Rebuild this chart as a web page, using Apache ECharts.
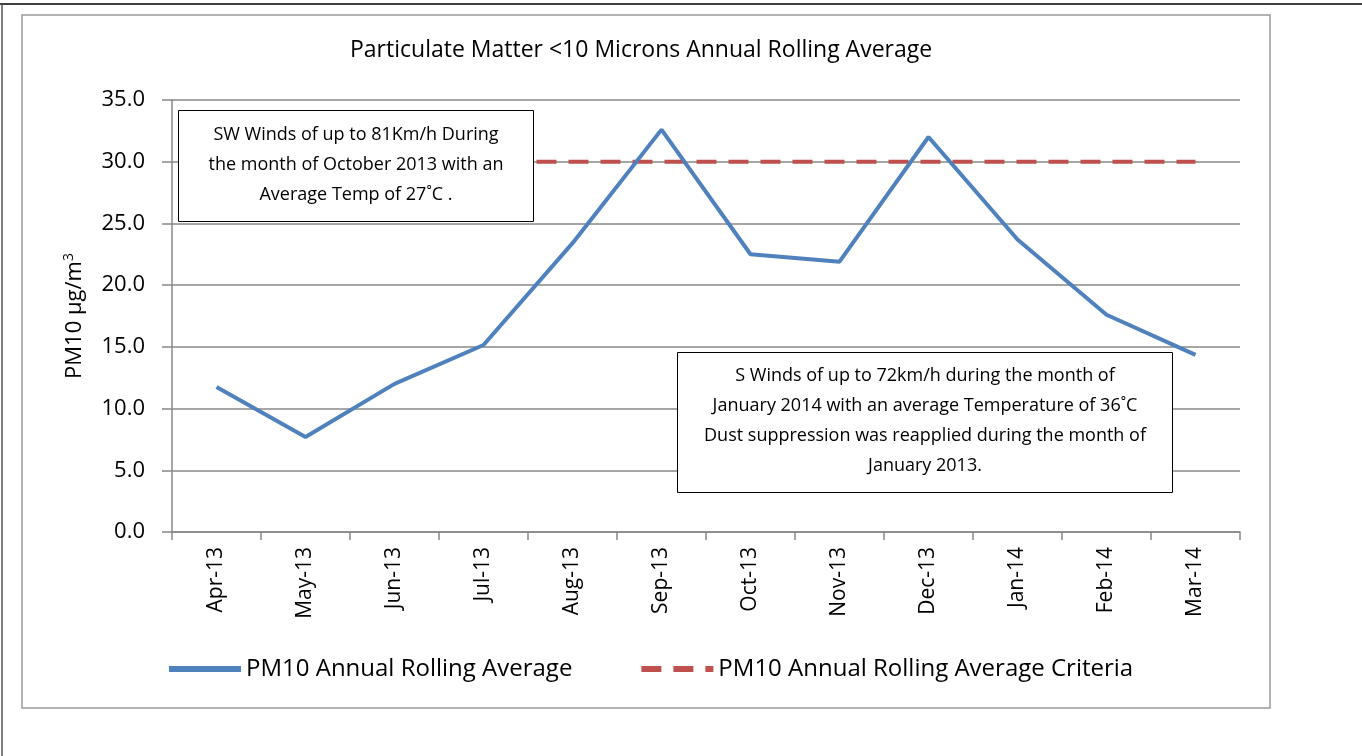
<!DOCTYPE html>
<html>
<head>
<meta charset="utf-8">
<script src="https://cdn.jsdelivr.net/npm/echarts@6/dist/echarts.min.js"></script>
<style>
html,body{margin:0;padding:0;background:#fff;}
#chart{width:1362px;height:756px;}
</style>
</head>
<body>
<div id="chart"></div>
<script>
var categories = ['Apr-13','May-13','Jun-13','Jul-13','Aug-13','Sep-13','Oct-13','Nov-13','Dec-13','Jan-14','Feb-14','Mar-14'];
var pm10Values = [11.75, 7.7, 12.0, 15.15, 23.4, 32.6, 22.5, 21.9, 32.0, 23.7, 17.6, 14.35];
var criteriaValues = [30, 30, 30, 30, 30, 30, 30, 30, 30, 30, 30, 30];
var yTicks = {min: 0, max: 35, interval: 5};
var note1 = ['SW Winds of up to 81Km/h During', 'the month of October 2013 with an', 'Average Temp of 27\u02DAC .'];
var note2 = ['S Winds of up to 72km/h during the month of', 'January 2014 with an average Temperature of 36\u02DAC', 'Dust suppression was reapplied during the month of', 'January 2013.'];

var FONT = 'Open Sans';
var chart = echarts.init(document.getElementById('chart'));
chart.setOption({
  animation: false,
  backgroundColor: '#fff',
  title: {
    text: 'Particulate Matter <10 Microns Annual Rolling Average',
    left: 350, top: 39, itemGap: 0, padding: 0,
    textStyle: {fontFamily: FONT, fontSize: 23, fontWeight: 'normal', color: '#000'}
  },
  grid: {left: 172, right: 122, top: 100, bottom: 224},
  legend: {
    bottom: 70, left: 161,
    itemWidth: 72, itemHeight: 10, itemGap: 66,
    textStyle: {fontFamily: FONT, fontSize: 24, color: '#000'},
    itemStyle: {opacity: 0},
    lineStyle: {width: 6},
    data: ['PM10 Annual Rolling Average', 'PM10 Annual Rolling Average Criteria']
  },
  xAxis: {
    type: 'category', data: categories, boundaryGap: true,
    axisLine: {lineStyle: {color: '#888', width: 1.5}},
    axisTick: {show: true, interval: 0, length: 8, lineStyle: {color: '#888', width: 1.5}},
    axisLabel: {rotate: 90, interval: 0, margin: 15, fontFamily: FONT, fontSize: 21, color: '#000'}
  },
  yAxis: {
    type: 'value', min: yTicks.min, max: yTicks.max, interval: yTicks.interval,
    name: '{a|PM10 µg/m}{s|3}', nameLocation: 'middle', nameGap: 84, nameRotate: 90,
    nameTextStyle: {rich: {
      a: {fontFamily: FONT, fontSize: 22, color: '#000'},
      s: {fontFamily: FONT, fontSize: 14, color: '#000', verticalAlign: 'top', padding: [0,0,12,0]}
    }},
    axisLine: {show: true, lineStyle: {color: '#888', width: 1.5}},
    axisTick: {show: true, length: 10, lineStyle: {color: '#888', width: 1.5}},
    splitLine: {lineStyle: {color: '#888', width: 1.5}},
    axisLabel: {margin: 27, fontFamily: FONT, fontSize: 22, color: '#000', formatter: function(v){return v.toFixed(1);}}
  },
  series: [
    {name: 'PM10 Annual Rolling Average', type: 'line', data: pm10Values, symbol: 'none',
      lineStyle: {color: '#4f81bd', width: 4}, itemStyle: {color: '#4f81bd'}, z: 3},
    {name: 'PM10 Annual Rolling Average Criteria', type: 'line', data: criteriaValues, symbol: 'none',
      lineStyle: {color: '#c0504d', width: 4, type: [20, 12]}, itemStyle: {color: '#c0504d'}, z: 2}
  ],
  graphic: [
    {type: 'line', shape: {x1: 0, y1: 4, x2: 1362, y2: 4}, style: {stroke: '#000', lineWidth: 1.5}, silent: true},
    {type: 'line', shape: {x1: 2, y1: 4, x2: 2, y2: 756}, style: {stroke: '#555', lineWidth: 1.5}, silent: true},
    {type: 'rect', shape: {x: 22, y: 15, width: 1248, height: 693}, style: {fill: 'none', stroke: '#999', lineWidth: 1.5}, silent: true, z: -1},
    {type: 'rect', shape: {x: 178.5, y: 110.5, width: 355, height: 111}, style: {fill: '#fff', stroke: '#000', lineWidth: 1}, z: 100, silent: true},
    {type: 'text', x: 356, y: 165, z: 101, silent: true, style: {text: note1.join('\n'), fontFamily: FONT, fontSize: 18, lineHeight: 30, fill: '#000', align: 'center', verticalAlign: 'middle'}},
    {type: 'rect', shape: {x: 677.5, y: 352.5, width: 495, height: 140}, style: {fill: '#fff', stroke: '#000', lineWidth: 1}, z: 100, silent: true},
    {type: 'text', x: 925, y: 421, z: 101, silent: true, style: {text: note2.join('\n'), fontFamily: FONT, fontSize: 18, lineHeight: 30, fill: '#000', align: 'center', verticalAlign: 'middle'}}
  ]
});
</script>
</body>
</html>
